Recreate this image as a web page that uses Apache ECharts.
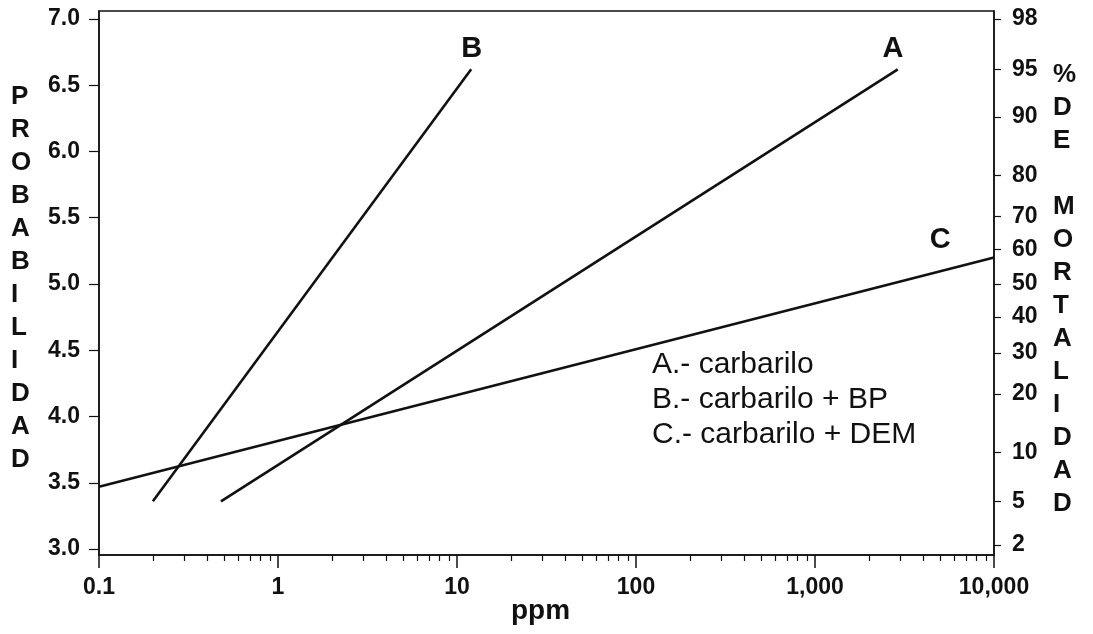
<!doctype html>
<html lang="es">
<head>
<meta charset="UTF-8">
<title>Probabilidad vs ppm</title>
<style type="text/css">
  html, body { margin: 0; padding: 0; background: #fff; }
  #chart { width: 1093px; height: 634px; }
</style>
<script src="https://cdn.jsdelivr.net/npm/echarts@6/dist/echarts.min.js"></script>
</head>
<body>
<div id="chart"></div>
<script type="text/javascript">
// lineas probit (ppm, probit) - extremos
var lineA = [[0.48, 3.36], [2900, 6.62]];
var lineB = [[0.2, 3.36], [12, 6.62]];
var lineC = [[0.1, 3.47], [10000, 5.2]];
var lineNames = ['A', 'B', 'C'];
// donde van las letras (ppm, probit)
var nameAt = [[2730, 6.77], [12.1, 6.77], [5000, 5.33]];

// ejes
var xMajor = [0.1, 1, 10, 100, 1000, 10000];
var probitTicks = [3.0, 3.5, 4.0, 4.5, 5.0, 5.5, 6.0, 6.5, 7.0];
var mortLabels = ['2', '5', '10', '20', '30', '40', '50', '60', '70', '80', '90', '95', '98'];
var mortPos = [3.03, 3.36, 3.73, 4.17, 4.48, 4.75, 5.0, 5.26, 5.51, 5.82, 6.26, 6.62, 7.0];
var legendLines = ['A.- carbarilo', 'B.- carbarilo + BP', 'C.- carbarilo + DEM'];

function lg(v) { return Math.log10(v); }
function toLog(pts) { return pts.map(function (p) { return [lg(p[0]), p[1]]; }); }

var xMinor = [];
for (var d = -1; d < 4; d++) {
  for (var k = 2; k <= 9; k++) xMinor.push(lg(k * Math.pow(10, d)));
}

var tickFont = "'Liberation Sans', Arial, sans-serif";
var titleFont = "'Liberation Sans', Arial, sans-serif";

var myChart = echarts.init(document.getElementById('chart'));
var option = {
  animation: false,
  grid: {
    left: 99, right: 99, top: 11, bottom: 79,
    show: true, borderColor: '#111', borderWidth: 1.5
  },
  xAxis: [
    {
      type: 'value', min: -1, max: 4,
      axisLine: { show: true, onZero: false, lineStyle: { color: '#111', width: 1.5 } },
      axisTick: { show: true, customValues: xMajor.map(lg), length: 13, lineStyle: { color: '#111', width: 1.5 } },
      axisLabel: {
        customValues: xMajor.map(lg), margin: 21,
        color: '#111', fontFamily: tickFont, fontWeight: 'bold', fontSize: 23,
        formatter: function (v) {
          var n = Math.pow(10, v);
          if (n < 1) return '0.1';
          return Math.round(n).toLocaleString('en-US');
        }
      },
      splitLine: { show: false }
    },
    {
      type: 'value', min: -1, max: 4, position: 'bottom',
      axisLine: { show: false, onZero: false },
      axisTick: { show: true, customValues: xMinor, length: 6, lineStyle: { color: '#111', width: 1.2 } },
      axisLabel: { show: false },
      splitLine: { show: false }
    }
  ],
  yAxis: [
    {
      type: 'value', min: 2.955, max: 7.06, position: 'left',
      axisLine: { show: true, onZero: false, lineStyle: { color: '#111', width: 1.5 } },
      axisTick: { show: true, customValues: probitTicks, length: 10, lineStyle: { color: '#111', width: 1.2 } },
      axisLabel: {
        customValues: probitTicks, margin: 19,
        color: '#111', fontFamily: tickFont, fontWeight: 'bold', fontSize: 23,
        formatter: function (v) { return v.toFixed(1); }
      },
      splitLine: { show: false }
    },
    {
      type: 'value', min: 2.955, max: 7.06, position: 'right',
      axisLine: { show: true, onZero: false, lineStyle: { color: '#111', width: 1.5 } },
      axisTick: { show: true, customValues: mortPos, length: 7, lineStyle: { color: '#111', width: 1.2 } },
      axisLabel: {
        customValues: mortPos, margin: 18,
        color: '#111', fontFamily: tickFont, fontWeight: 'bold', fontSize: 23,
        formatter: function (v) {
          var i = mortPos.indexOf(v);
          return i >= 0 ? mortLabels[i] : '';
        }
      },
      splitLine: { show: false }
    }
  ],
  series: [lineA, lineB, lineC].map(function (pts, i) {
    return {
      name: lineNames[i],
      type: 'line',
      data: toLog(pts),
      symbol: 'none',
      lineStyle: { color: '#111', width: 2.6 },
      markPoint: {
        symbol: 'circle', symbolSize: 0,
        data: [{ coord: [lg(nameAt[i][0]), nameAt[i][1]] }],
        label: {
          show: true, position: 'inside', formatter: lineNames[i],
          color: '#111', fontFamily: titleFont, fontWeight: 'bold', fontSize: 29
        }
      }
    };
  }),
  graphic: [
    {
      type: 'text', left: 652, top: 347,
      style: {
        text: legendLines.join('\n'), fill: '#111',
        font: '30px ' + titleFont, lineHeight: 35
      }
    },
    {
      type: 'text', left: 511, top: 597,
      style: {
        text: 'ppm', fill: '#111',
        font: 'bold 28px ' + titleFont
      }
    },
    {
      type: 'text', left: 11, top: 80,
      style: {
        text: 'PROBABILIDAD'.split('').join('\n'), fill: '#111', align: 'center',
        font: 'bold 26px ' + titleFont, lineHeight: 33
      }
    },
    {
      type: 'text', left: 1053, top: 58,
      style: {
        text: ['%', 'D', 'E', '', 'M', 'O', 'R', 'T', 'A', 'L', 'I', 'D', 'A', 'D'].join('\n'),
        fill: '#111', align: 'center',
        font: 'bold 26px ' + titleFont, lineHeight: 33
      }
    }
  ]
};
myChart.setOption(option);
</script>
</body>
</html>
